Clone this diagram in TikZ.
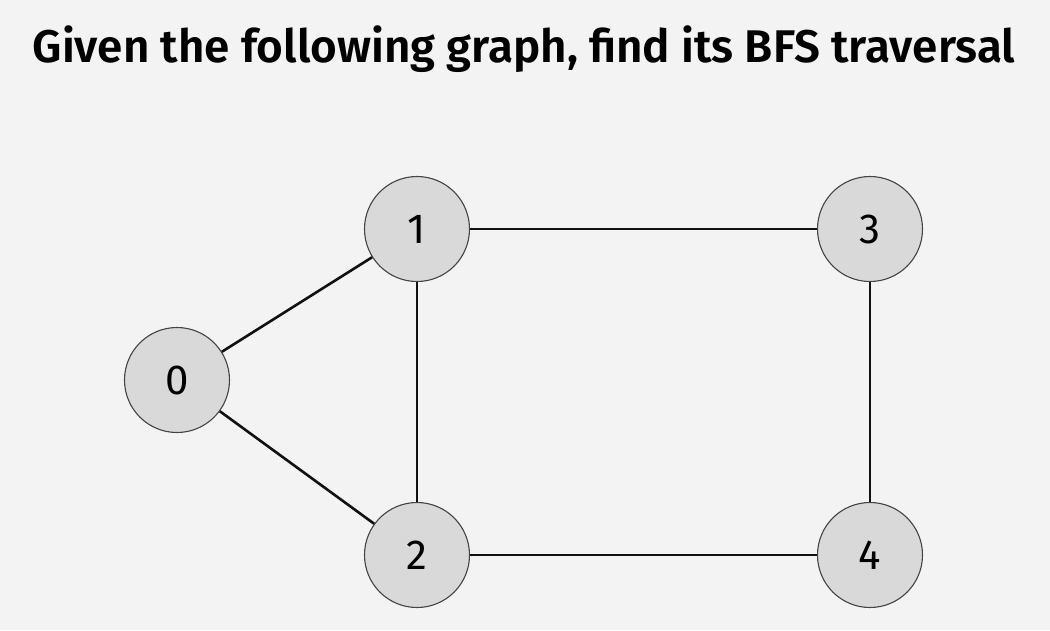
\documentclass[tikz,border=0pt]{standalone}
\usepackage{fontspec}
\setmainfont{Fira Sans}[BoldFont={Fira Sans SemiBold}]
\definecolor{bg}{HTML}{F3F3F3}
\definecolor{nodefill}{HTML}{D9D9D9}
\definecolor{nodeborder}{HTML}{444444}
\definecolor{edgecol}{HTML}{111111}
\begin{document}
\begin{tikzpicture}[x=1pt,y=-1pt,
  vert/.style={circle,minimum size=105pt,inner sep=0pt,fill=nodefill,draw=nodeborder,line width=1.1pt,font=\fontsize{42}{42}\selectfont},
  edge/.style={draw=edgecol,line width=2.6pt}]
\fill[bg] (0,0) rectangle (1050,630);
\useasboundingbox (0,0) rectangle (1050,630);
\node[font=\fontsize{45.8}{46}\selectfont\bfseries,anchor=base,text=black] (title) at (524,62) {Given the following graph, find its BFS traversal};
\node[vert] (n0) at (177,380) {0};
\node[vert] (n1) at (417,229) {1};
\node[vert] (n3) at (870,229) {3};
\node[vert] (n2) at (417,555) {2};
\node[vert] (n4) at (870,555) {4};
\draw[edge] (n0) -- (n1);
\draw[edge] (n0) -- (n2);
\draw[edge] (n1) -- (n3);
\draw[edge] (n1) -- (n2);
\draw[edge] (n3) -- (n4);
\draw[edge] (n2) -- (n4);
\end{tikzpicture}
\end{document}
